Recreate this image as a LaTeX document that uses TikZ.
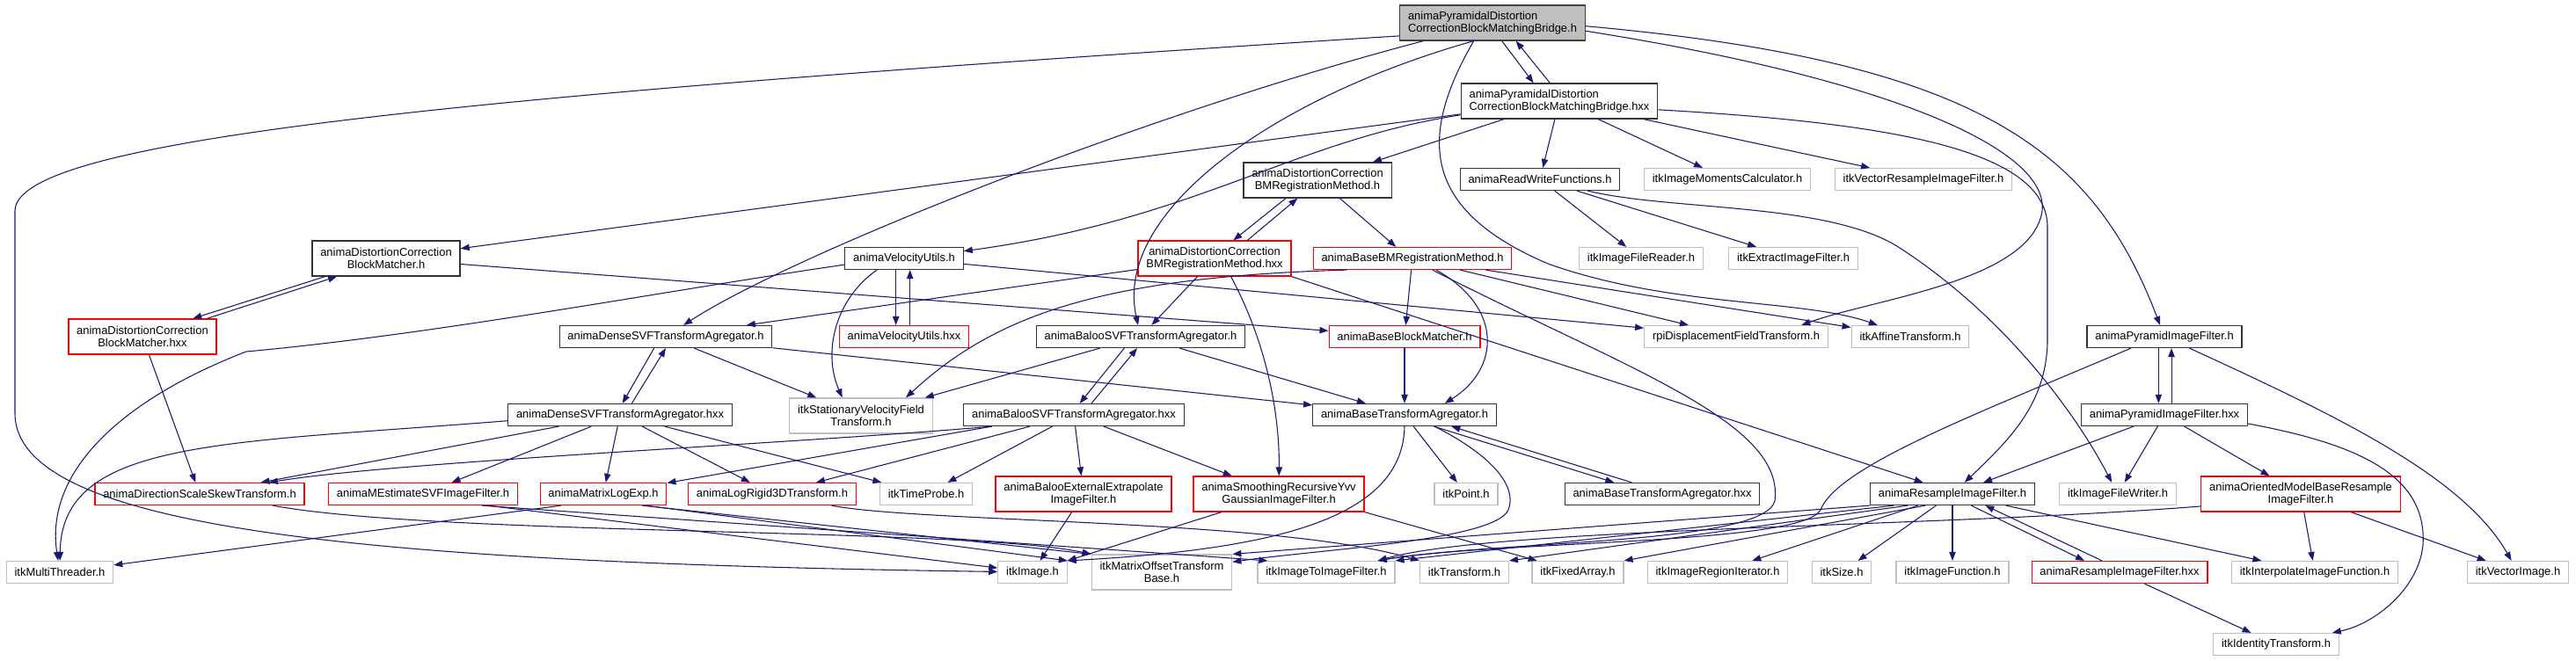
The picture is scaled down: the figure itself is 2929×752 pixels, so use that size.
\documentclass[tikz,border=0pt]{standalone}
\usepackage{fontspec}
\newfontfamily\dxfont{Liberation Sans}
\usetikzlibrary{arrows.meta}
\definecolor{dxblue}{HTML}{191970}
\definecolor{dxgray}{HTML}{BFBFBF}
\begin{document}
\begin{tikzpicture}[x=0.75pt,y=-0.75pt,>={Triangle[length=7.5pt,width=5.5pt]},
  file/.style={rectangle,draw,fill=white,line width=0.9pt,minimum height=18.75pt,
    inner xsep=7pt,inner ysep=2pt,font=\dxfont\fontsize{9.7}{10.7}\selectfont},
  two/.style={minimum height=30pt,align=center},
  doc/.style={file,draw=black!80},
  trunc/.style={file,draw=red},
  ext/.style={file,draw=dxgray},
  main/.style={file,draw=black!75,fill=dxgray},
  dep/.style={->,draw=dxblue,line width=0.8pt}]
\useasboundingbox (0,0) rectangle (2929,752);
\node[main,two,align=left] (root) at (1697,26) {animaPyramidalDistortion\\CorrectionBlockMatchingBridge.h};
\node[doc,two,align=left] (bhxx) at (1773,115) {animaPyramidalDistortion\\CorrectionBlockMatchingBridge.hxx};
\node[doc,two] (dcbmh) at (1498,205) {animaDistortionCorrection\\BMRegistrationMethod.h};
\node[doc] (rwf) at (1751,204) {animaReadWriteFunctions.h};
\node[ext] (imc) at (1964,204) {itkImageMomentsCalculator.h};
\node[ext] (vrif) at (2187,204) {itkVectorResampleImageFilter.h};
\node[trunc,two] (dcbmhxx) at (1381,294) {animaDistortionCorrection\\BMRegistrationMethod.hxx};
\node[trunc] (bbmrm) at (1606,294) {animaBaseBMRegistrationMethod.h};
\node[ext] (ifr) at (1866,294) {itkImageFileReader.h};
\node[ext] (eif) at (2039,294) {itkExtractImageFilter.h};
\node[doc] (vu) at (1028,294) {animaVelocityUtils.h};
\node[doc,two] (dcbm) at (439,294) {animaDistortionCorrection\\BlockMatcher.h};
\node[trunc] (vuhxx) at (1028,383) {animaVelocityUtils.hxx};
\node[doc] (bsvf) at (1297,383) {animaBalooSVFTransformAgregator.h};
\node[trunc] (bbm) at (1597,383) {animaBaseBlockMatcher.h};
\node[ext] (rpi) at (1974,383) {rpiDisplacementFieldTransform.h};
\node[ext] (aff) at (2172,383) {itkAffineTransform.h};
\node[doc] (pif) at (2461,383) {animaPyramidImageFilter.h};
\node[trunc,two] (dcbmx) at (162,383) {animaDistortionCorrection\\BlockMatcher.hxx};
\node[doc] (dsvf) at (757,383) {animaDenseSVFTransformAgregator.h};
\node[ext,two] (svft) at (979,473) {itkStationaryVelocityField\\Transform.h};
\node[doc] (dsvfx) at (705,472) {animaDenseSVFTransformAgregator.hxx};
\node[doc] (bsvfx) at (1221,472) {animaBalooSVFTransformAgregator.hxx};
\node[doc] (bta) at (1597,472) {animaBaseTransformAgregator.h};
\node[doc] (pifx) at (2461,472) {animaPyramidImageFilter.hxx};
\node[trunc] (dss) at (227,562) {animaDirectionScaleSkewTransform.h};
\node[trunc] (mest) at (481,562) {animaMEstimateSVFImageFilter.h};
\node[trunc] (mle) at (686,562) {animaMatrixLogExp.h};
\node[trunc] (lr3d) at (878,562) {animaLogRigid3DTransform.h};
\node[ext] (tp) at (1053,562) {itkTimeProbe.h};
\node[trunc,two] (bee) at (1232,562) {animaBalooExternalExtrapolate\\ImageFilter.h};
\node[trunc,two] (syvv) at (1454,562) {animaSmoothingRecursiveYvv\\GaussianImageFilter.h};
\node[ext] (pt) at (1667,562) {itkPoint.h};
\node[doc] (btax) at (1890,562) {animaBaseTransformAgregator.hxx};
\node[doc] (rif) at (2220,562) {animaResampleImageFilter.h};
\node[ext] (ifw) at (2408,562) {itkImageFileWriter.h};
\node[trunc,two] (ombr) at (2616,562) {animaOrientedModelBaseResample\\ImageFilter.h};
\node[ext] (mt) at (68,651) {itkMultiThreader.h};
\node[ext] (img) at (1174,651) {itkImage.h};
\node[ext,two] (mot) at (1321,651) {itkMatrixOffsetTransform\\Base.h};
\node[ext] (i2i) at (1508,651) {itkImageToImageFilter.h};
\node[ext] (tr) at (1665,651) {itkTransform.h};
\node[ext] (fa) at (1794,651) {itkFixedArray.h};
\node[ext] (rit) at (1953,651) {itkImageRegionIterator.h};
\node[ext] (sz) at (2094,651) {itkSize.h};
\node[ext] (ifn) at (2220,651) {itkImageFunction.h};
\node[trunc] (rifx) at (2410,651) {animaResampleImageFilter.hxx};
\node[ext] (iif) at (2632,651) {itkInterpolateImageFunction.h};
\node[ext] (vi) at (2863,651) {itkVectorImage.h};
\node[ext] (it) at (2588,733) {itkIdentityTransform.h};
% root
\draw[dep] (root.188) .. controls (500,110) and (17,160) .. (17,240) -- (17,470) .. controls (17,600) and (400,640) .. (img);
\draw[dep] (root) .. controls (1300,130) and (900,290) .. (dsvf);
\draw[dep] ([xshift=8pt]root.south) -- ([xshift=-22pt]bhxx.north);
\draw[dep] ([xshift=-8pt]bhxx.north) -- ([xshift=20pt]root.south);
\draw[dep] (root.224) .. controls (1450,110) and (1265,240) .. (bsvf);
\draw[dep] (root.224) .. controls (1610,160) and (1620,240) .. (1760,300) .. controls (1900,350) and (2050,340) .. (aff);
\draw[dep] (root.-5) .. controls (2150,90) and (2330,170) .. (2322,240) .. controls (2310,320) and (2130,340) .. (rpi.10);
\draw[dep] (root.-2) .. controls (2250,70) and (2380,170) .. (pif);
% bridge hxx
\draw[dep] (bhxx) -- (dcbm);
\draw[dep] (bhxx.188) .. controls (1470,160) and (1360,250) .. (vu.7);
\draw[dep] (bhxx) -- (dcbmh);
\draw[dep] (bhxx) -- (rwf);
\draw[dep] (bhxx) -- (imc);
\draw[dep] (bhxx) -- (vrif);
\draw[dep] (bhxx.-5) .. controls (2150,140) and (2330,170) .. (2328,260) -- (2328,390) .. controls (2326,460) and (2285,500) .. (rif);
\draw[dep] (rwf) -- (ifr);
\draw[dep] (rwf) -- (eif);
\draw[dep] (rwf) .. controls (1900,240) and (2080,230) .. (2160,282) .. controls (2280,360) and (2360,470) .. (ifw);
% registration
\draw[dep] ([xshift=-27pt]dcbmh.south) -- ([xshift=16pt]dcbmhxx.north);
\draw[dep] ([xshift=28pt]dcbmhxx.north) -- ([xshift=-17pt]dcbmh.south);
\draw[dep] ([xshift=19pt]dcbmh.south) -- ([xshift=-14pt]bbmrm.north);
\draw[dep] (dcbmhxx) -- (bsvf);
\draw[dep] (dcbmhxx) -- (dsvf);
\draw[dep] (dcbmhxx.-48) .. controls (1440,390) and (1455,470) .. (syvv);
\draw[dep] (dcbmhxx.south east) -- ([xshift=-25pt]rif.north);
\draw[dep] (bbmrm) -- (bbm);
\draw[dep] (bbmrm.-26) .. controls (1710,350) and (1705,420) .. (bta.16);
\draw[dep] (bbmrm.190) .. controls (1250,315) and (1130,360) .. (svft.22);
\draw[dep] (bbmrm) -- (rpi);
\draw[dep] (bbmrm) -- (aff);
\draw[dep] (bbmrm.-30) .. controls (1850,420) and (2030,480) .. (2018,570) .. controls (2005,620) and (1700,615) .. ([xshift=44pt]i2i.north);
% velocity utils
\draw[dep] ([xshift=-7pt]vu.south) -- ([xshift=-7pt]vuhxx.north);
\draw[dep] ([xshift=5pt]vuhxx.north) -- ([xshift=5pt]vu.south);
\draw[dep] (vu.203) .. controls (950,340) and (935,400) .. ([xshift=-16pt]svft.north);
\draw[dep] (vu) -- (rpi);
\draw[dep] (vu.186) .. controls (760,330) and (500,380) .. (280,400) .. controls (150,450) and (50,530) .. (mt);
% block matcher
\draw[dep] ([xshift=-52pt]dcbm.south) -- ([xshift=43pt]dcbmx.north);
\draw[dep] ([xshift=55pt]dcbmx.north) -- ([xshift=-42pt]dcbm.south);
\draw[dep] (dcbm) -- (bbm);
\draw[dep] (dcbmx) -- (dss);
% agregators
\draw[dep] ([xshift=-10pt]dsvf.south) -- ([xshift=2pt]dsvfx.north);
\draw[dep] ([xshift=10pt]dsvfx.north) -- (dsvf.south);
\draw[dep] (dsvf) -- (svft);
\draw[dep] (dsvf) -- (bta);
\draw[dep] (dsvfx.183) .. controls (250,505) and (70,500) .. (mt);
\draw[dep] (dsvfx) -- (dss);
\draw[dep] (dsvfx) -- (mest);
\draw[dep] (dsvfx) -- (mle);
\draw[dep] (dsvfx) -- (lr3d);
\draw[dep] (dsvfx) -- (tp);
\draw[dep] (bsvf) -- (svft);
\draw[dep] ([xshift=-14pt]bsvf.south) -- ([xshift=5pt]bsvfx.north);
\draw[dep] ([xshift=15pt]bsvfx.north) -- ([xshift=-3pt]bsvf.south);
\draw[dep] (bsvf) -- (bta);
\draw[dep] (bsvfx.188) .. controls (900,505) and (450,525) .. (dss);
\draw[dep] (bsvfx.188) -- (mle);
\draw[dep] (bsvfx) -- (lr3d);
\draw[dep] (bsvfx) -- (tp);
\draw[dep] (bsvfx) -- (bee);
\draw[dep] (bsvfx) -- (syvv);
\draw[dep] (bbm) -- (bta);
\draw[dep] (bta) -- (pt);
\draw[dep] ([xshift=25pt]bta.south) -- ([xshift=-41pt]btax.north);
\draw[dep] ([xshift=-26pt]btax.north) -- ([xshift=40pt]bta.south);
\draw[dep] (bta.south) .. controls (1595,590) and (1450,625) .. (img.north east);
\draw[dep] (bta.-21) .. controls (1700,520) and (1725,555) .. (1715,580) .. controls (1700,615) and (1500,625) .. (mot);
% transforms and filters
\draw[dep] (dss.-9) .. controls (500,610) and (1100,600) .. (mot.north west);
\draw[dep] ([xshift=50pt]mest.south) -- ([xshift=-50pt]i2i.north);
\draw[dep] ([xshift=55pt]mest.south) -- (img);
\draw[dep] ([xshift=-36pt]mle.south) -- (mt);
\draw[dep] ([xshift=33pt]mle.south) -- (mot.north west);
\draw[dep] ([xshift=36pt]mle.south) -- (img.north east);
\draw[dep] (lr3d.-11) .. controls (1050,595) and (1450,590) .. (tr.north west);
\draw[dep] (bee) -- (img);
\draw[dep] (syvv) -- (img.north east);
\draw[dep] (syvv.south east) -- (fa);
% pyramid
\draw[dep] ([xshift=-5pt]pif.south) -- ([xshift=-5pt]pifx.north);
\draw[dep] ([xshift=6pt]pifx.north) -- ([xshift=6pt]pif.south);
\draw[dep] (pif) .. controls (2650,470) and (2800,540) .. (vi);
\draw[dep] (pif.199) .. controls (2250,470) and (2090,530) .. (2070,580) .. controls (2050,620) and (1700,615) .. ([xshift=44pt]i2i.north);
\draw[dep] (pifx) -- (rif);
\draw[dep] (pifx) -- (ifw);
\draw[dep] (pifx) -- (ombr);
\draw[dep] (pifx.-6) .. controls (2680,505) and (2760,540) .. (2755,620) .. controls (2750,670) and (2700,710) .. (it);
\draw[dep] (ombr.187) .. controls (2200,600) and (1700,600) .. ([xshift=44pt]i2i.north);
\draw[dep] (ombr) -- (iif);
\draw[dep] (ombr) -- (vi);
% resample
\draw[dep] (rif) -- (rit);
\draw[dep] (rif) -- (sz);
\draw[dep] (rif) -- (ifn);
\draw[dep] ([xshift=16pt]rif.south) -- ([xshift=-30pt]rifx.north);
\draw[dep] ([xshift=-15pt]rifx.north) -- ([xshift=28pt]rif.south);
\draw[dep] (rif) -- (iif);
\draw[dep] (rif.south west) -- (mot.north east);
\draw[dep] ([xshift=-50pt]rif.south) -- (i2i.north east);
\draw[dep] ([xshift=-38pt]rif.south) -- (tr.north east);
\draw[dep] ([xshift=-23pt]rif.south) -- (fa.north east);
\draw[dep] (rifx) -- (it);
\end{tikzpicture}
\end{document}
